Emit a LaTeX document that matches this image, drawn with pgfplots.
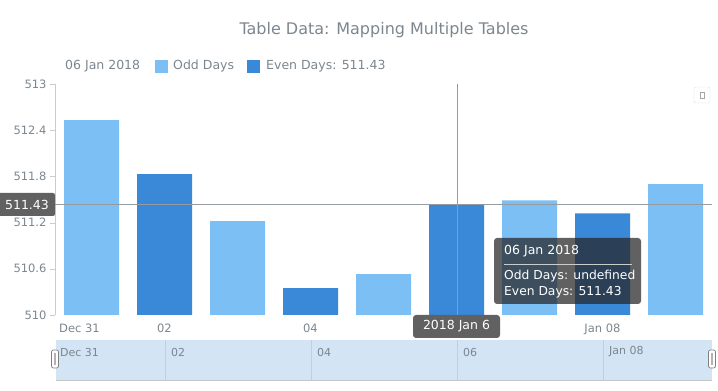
\documentclass[border=0pt]{standalone}
\usepackage{pgfplots}
\pgfplotsset{compat=1.18}
\usepackage{fontspec}
\setmainfont{DejaVu Sans}
\definecolor{lightb}{RGB}{123,191,245}
\definecolor{darkb}{RGB}{58,136,216}
\definecolor{txt}{RGB}{124,134,142}
\definecolor{cross}{RGB}{150,155,160}
\definecolor{boxg}{RGB}{97,97,97}
\definecolor{scrl}{RGB}{211,228,245}
\definecolor{axl}{RGB}{204,204,204}
\begin{document}
\begin{tikzpicture}
\path[use as bounding box] (0pt,0pt) rectangle (718pt,391pt);
\begin{axis}[at={(55pt,76pt)}, anchor=south west, scale only axis,
  width=657pt, height=231pt,
  xmin=-0.5, xmax=8.5, ymin=510, ymax=513,
  y coord trafo/.code={\pgfmathparse{#1-510}},
  y coord inv trafo/.code={\pgfmathparse{#1+510}},
  ytick={510,510.6,511.2,511.8,512.4,513},
  yticklabels={510,510.6,511.2,511.8,512.4,513},
  xtick={0,1,3,7},
  xticklabels={\hspace*{-24pt}Dec 31,02,04,Jan 08},
  axis y line*=left, axis x line*=bottom,
  x axis line style={draw=none},
  y axis line style={draw=axl, -},
  xtick style={draw=none},
  ytick style={draw=axl},
  tick align=outside, major tick length=5pt,
  ticklabel style={font=\fontsize{11.5}{13}\selectfont, text=txt},
  clip=true]
\addplot[ybar, bar width=55pt, bar shift=0pt, fill=lightb, draw=none]
  coordinates {(0,512.53) (2,511.22) (4,510.53) (6,511.49) (8,511.70)};
\addplot[ybar, bar width=55pt, bar shift=0pt, fill=darkb, draw=none]
  coordinates {(1,511.83) (3,510.35) (5,511.43) (7,511.32)};
\end{axis}
\begin{scope}[x=1pt,y=-1pt,yshift=391pt]
% title
\node[font=\fontsize{16}{19}\selectfont, text=txt] at (384,30) {Table Data: Mapping Multiple Tables};
% legend
\node[anchor=west, font=\fontsize{12.5}{15}\selectfont, text=txt, inner sep=0pt] at (65,66) {06 Jan 2018};
\fill[lightb] (155,60) rectangle (168,73);
\node[anchor=west, font=\fontsize{12.5}{15}\selectfont, text=txt, inner sep=0pt] at (173,66) {Odd Days};
\fill[darkb] (247,60) rectangle (260,73);
\node[anchor=west, font=\fontsize{12.5}{15}\selectfont, text=txt, inner sep=0pt] at (266,66) {Even Days: 511.43};
% button
\draw[gray!25, fill=white, rounded corners=1.5pt] (694,87) rectangle (710,103);
\draw[gray!70, line width=0.7pt] (700,92) rectangle (704,98);
% crosshair
\draw[cross, line width=1pt] (457,84) -- (457,315);
\draw[cross, line width=1pt] (55,204.5) -- (712,204.5);
% y label
\fill[boxg, rounded corners=2pt] (-3,193) rectangle (55,216);
\node[text=white, font=\fontsize{12.5}{15}\selectfont] at (27,204.5) {511.43};
% x label
\fill[boxg, rounded corners=3pt] (413,315) rectangle (500,338);
\node[text=white, font=\fontsize{12.5}{15}\selectfont] at (456.5,326.5) {2018 Jan 6};
% tooltip
\fill[black!85, opacity=0.73, rounded corners=3pt] (494,238) rectangle (641,304);
\node[anchor=west, text=white, inner sep=0pt, font=\fontsize{12.5}{15}\selectfont] at (504,251) {06 Jan 2018};
\draw[white!60!gray, line width=0.6pt] (504,264) -- (632,264);
\node[anchor=west, text=white, inner sep=0pt, font=\fontsize{12.3}{15}\selectfont] at (504,276.5) {Odd Days: undefined};
\node[anchor=west, text=white, inner sep=0pt, font=\fontsize{12.3}{15}\selectfont] at (504,292.5) {Even Days: 511.43};
% scroller
\fill[scrl] (56,340) rectangle (712,380);
\draw[gray!45, line width=0.7pt] (56,380) -- (712,380);
\foreach \xx in {165,311,457,603} \draw[gray!40, line width=0.6pt] (\xx,340) -- (\xx,380);
\foreach \xx/\lab in {60/Dec 31,171/02,317/04,463/06,609/Jan 08}
  \node[anchor=west, inner sep=0pt, text=txt, font=\fontsize{11}{13}\selectfont] at (\xx,352) {\lab};
\foreach \xx in {55,712} {
  \draw[gray, fill=white, rounded corners=2pt, line width=0.7pt] (\xx-3.5,350) rectangle (\xx+3.5,368);
  \fill[gray!60] (\xx-1.2,353) rectangle (\xx+1.2,365);
}
\end{scope}
\end{tikzpicture}
\end{document}
